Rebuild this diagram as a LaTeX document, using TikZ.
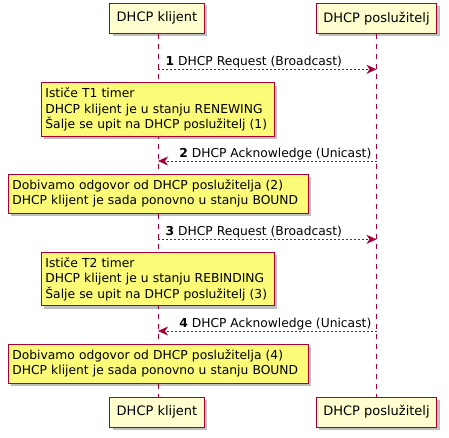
\documentclass[tikz,border=0pt]{standalone}
\usepackage{fontspec}
\setmainfont{DejaVu Sans}
\usepackage{tikz}
\usetikzlibrary{arrows.meta, positioning, shadows}
\definecolor{umlred}{HTML}{A80036}
\definecolor{umlbox}{HTML}{FEFECE}
\definecolor{umlnote}{HTML}{FBFB77}
\tikzset{
    actor/.style={
        rectangle, draw=umlred, fill=umlbox, line width=1pt,
        minimum height=30pt, inner xsep=7pt,
        font=\fontsize{13}{15}\selectfont,
        drop shadow={shadow xshift=3pt, shadow yshift=-3pt, fill=black, opacity=0.25}
    },
    note/.style={
        rectangle, draw=umlred, fill=umlnote, line width=0.8pt,
        inner xsep=4pt, inner ysep=4pt, align=left,
        font=\fontsize{12.3}{15.3}\selectfont,
        drop shadow={shadow xshift=3pt, shadow yshift=-3pt, fill=black, opacity=0.25}
    },
    lifeline/.style={draw=umlred, line width=0.7pt, dash pattern=on 5pt off 5pt},
    msg/.style={draw=umlred, line width=0.7pt, dash pattern=on 2pt off 2pt,
        -{Stealth[length=10pt, width=9pt, inset=3pt]}},
    msglabel/.style={font=\fontsize{12.3}{14}\selectfont, inner sep=0pt}
}
\begin{document}
\begin{tikzpicture}[x=1pt, y=-1pt]
    \useasboundingbox (0,0) rectangle (449,437);

    % participants
    \node[actor] (kt) at (157,18.3) {DHCP klijent};
    \node[actor] (st) at (376.5,18.3) {DHCP poslužitelj};
    \node[actor] (kb) at (157,412) {DHCP klijent};
    \node[actor] (sb) at (376.5,412) {DHCP poslužitelj};

    % lifelines
    \draw[lifeline] (kt.south -| 158,0) -- (kb.north -| 158,0);
    \draw[lifeline] (st.south) -- (sb.north);

    % message ends
    \coordinate (k1) at (158,69.3);  \coordinate (s1) at (376.5,69.3);
    \coordinate (k2) at (158,161);   \coordinate (s2) at (376.5,161);
    \coordinate (k3) at (158,239.3); \coordinate (s3) at (376.5,239.3);
    \coordinate (k4) at (158,331);   \coordinate (s4) at (376.5,331);

    \draw[msg] (k1) -- (s1);
    \node[msglabel, anchor=base west] (l1) at (165.5,65.5) {\textbf{1} DHCP Request (Broadcast)};
    \draw[msg] (s2) -- (k2);
    \node[msglabel, anchor=base east] (l2) at (371.5,157) {\textbf{2} DHCP Acknowledge (Unicast)};
    \draw[msg] (k3) -- (s3);
    \node[msglabel, anchor=base west] (l3) at (165.5,235.5) {\textbf{3} DHCP Request (Broadcast)};
    \draw[msg] (s4) -- (k4);
    \node[msglabel, anchor=base east] (l4) at (371.5,327) {\textbf{4} DHCP Acknowledge (Unicast)};

    % notes
    \node[note, anchor=north west, text width=225pt, minimum height=53.4pt] (n1) at (41,82.3)
        {Ističe T1 timer\\DHCP klijent je u stanju RENEWING\\Šalje se upit na DHCP poslužitelj (1)};
    \node[note, anchor=north west, text width=292pt, minimum height=38.5pt] (n2) at (8,174)
        {Dobivamo odgovor od DHCP poslužitelja (2)\\DHCP klijent je sada ponovno u stanju BOUND};
    \node[note, anchor=north west, text width=225pt, minimum height=53.4pt] (n3) at (41,252)
        {Ističe T2 timer\\DHCP klijent je u stanju REBINDING\\Šalje se upit na DHCP poslužitelj (3)};
    \node[note, anchor=north west, text width=292pt, minimum height=38.5pt] (n4) at (8,344)
        {Dobivamo odgovor od DHCP poslužitelja (4)\\DHCP klijent je sada ponovno u stanju BOUND};
\end{tikzpicture}
\end{document}
